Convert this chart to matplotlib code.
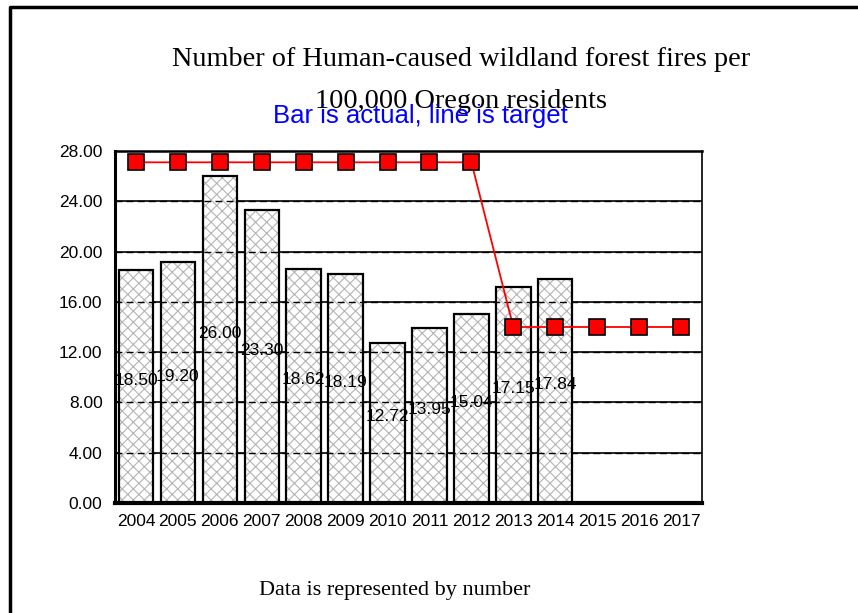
import matplotlib.pyplot as plt
from matplotlib.lines import Line2D

years = [str(y) for y in range(2004, 2018)]
actual = [18.50, 19.20, 26.00, 23.30, 18.62, 18.19, 12.72, 13.95, 15.04, 17.15, 17.84]
target = [27.1] * 9 + [14.0] * 5
yticks = [0, 4, 8, 12, 16, 20, 24, 28]

plt.rcParams["font.family"] = ["Liberation Sans", "DejaVu Sans"]
plt.rcParams["hatch.linewidth"] = 0.8

fig = plt.figure(figsize=(8.58, 6.13), dpi=100)
ax = fig.add_axes([115 / 858, 1 - 503 / 613, 587 / 858, 352 / 613])

x = list(range(len(years)))

# gridlines: solid under the bars, dashed on top so they show as dashes inside bars
for v in yticks[1:-1]:
    ax.axhline(v, color="black", lw=1.2, zorder=0)
    ax.axhline(v, color="black", lw=1.0, ls=(0, (5, 3)), zorder=2.5)

# gray hatch fill, then black outline on top
ax.bar(x[:len(actual)], actual, width=0.82, color="white", edgecolor="#b4b4b4",
       linewidth=0, hatch="xxx", zorder=2)
ax.bar(x[:len(actual)], actual, width=0.82, fill=False, edgecolor="black",
       linewidth=1.6, zorder=3)

for i, v in enumerate(actual):
    ax.text(i, v / 2 + 0.5, f"{v:.2f}", ha="center", va="center", fontsize=12.5, zorder=4)

ax.plot(x, target, color="red", lw=1.3, marker="s", markersize=11,
        markerfacecolor="red", markeredgecolor="black", markeredgewidth=1.2, zorder=5)

ax.set_xlim(-0.5, len(years) - 0.5)
ax.set_ylim(0, 28)
ax.set_xticks(x)
ax.set_xticklabels(years, fontsize=12.5)
ax.set_yticks(yticks)
ax.set_yticklabels([f"{v:.2f}" for v in yticks], fontsize=12.5)
ax.tick_params(length=0)
ax.tick_params(axis="y", pad=9)
ax.tick_params(axis="x", pad=8)
ax.spines["top"].set_linewidth(1.8)
ax.spines["right"].set_linewidth(1.2)
ax.spines["left"].set_linewidth(2.2)
ax.spines["bottom"].set_linewidth(3)

serif = ["Liberation Serif", "DejaVu Serif"]
fig.text(461 / 858, 1 - 60 / 613, "Number of Human-caused wildland forest fires per",
         ha="center", va="center", fontsize=20.3, family=serif)
fig.text(461 / 858, 1 - 101 / 613, "100,000 Oregon residents",
         ha="center", va="center", fontsize=20.3, family=serif)
fig.text(420 / 858, 1 - 116 / 613, "Bar is actual, line is target",
         ha="center", va="center", fontsize=18.5, color="#0000ff")
fig.text(395 / 858, 1 - 590 / 613, "Data is represented by number",
         ha="center", va="center", fontsize=16, family=serif)

# outer frame (left and top only visible)
fig.add_artist(Line2D([10 / 858, 10 / 858, 1], [0, 1 - 7 / 613, 1 - 7 / 613],
                      transform=fig.transFigure, color="black", lw=2.5))

fig.savefig("out.png", dpi=100, facecolor="white")
